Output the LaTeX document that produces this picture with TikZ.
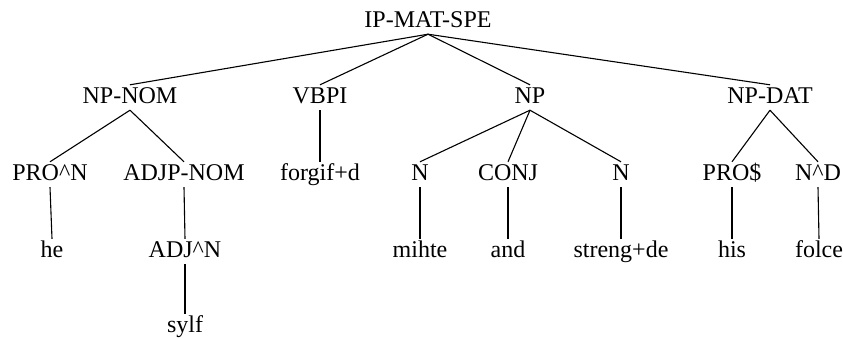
\documentclass[tikz,border=0pt]{standalone}
\usepackage{fontspec}
\setmainfont{Liberation Serif}
\begin{document}
\begin{tikzpicture}[x=1pt,y=-1pt,
  lbl/.style={anchor=base,inner xsep=1pt,inner ysep=3pt,text height=15pt,text depth=4pt,
    font=\fontsize{24}{27}\selectfont},
  edge/.style={draw=black,line width=1.1pt}]
\useasboundingbox (0,0) rectangle (843,338);
% level 0
\node[lbl] (ip) at (428,27) {IP-MAT-SPE};
% level 1
\node[lbl] (npnom) at (130,103) {NP-NOM};
\node[lbl] (vbpi) at (320,103) {VBPI};
\node[lbl] (np) at (530,103) {NP};
\node[lbl] (npdat) at (770,103) {NP-DAT};
% level 2
\node[lbl] (pron) at (50,180) {PRO\textasciicircum N};
\node[lbl] (adjp) at (184,180) {ADJP-NOM};
\node[lbl] (forgif) at (320,180) {forgif+d};
\node[lbl] (n1) at (420,180) {N};
\node[lbl] (conj) at (508,180) {CONJ};
\node[lbl] (n2) at (621,180) {N};
\node[lbl] (pros) at (732,180) {PRO\$};
\node[lbl] (nd) at (818,180) {N\textasciicircum D};
% level 3
\node[lbl] (he) at (52,257) {he};
\node[lbl] (adjn) at (185,257) {ADJ\textasciicircum N};
\node[lbl] (mihte) at (420,257) {mihte};
\node[lbl] (and) at (508,257) {and};
\node[lbl] (streng) at (621,257) {streng+de};
\node[lbl] (his) at (732,257) {his};
\node[lbl] (folce) at (819,257) {folce};
% level 4
\node[lbl] (sylf) at (185,332) {sylf};
% edges
\draw[edge] (ip.south) -- (npnom.north);
\draw[edge] (ip.south) -- (vbpi.north);
\draw[edge] (ip.south) -- (np.north);
\draw[edge] (ip.south) -- (npdat.north);
\draw[edge] (npnom.south) -- (pron.north);
\draw[edge] (npnom.south) -- (adjp.north);
\draw[edge] (vbpi.south) -- (forgif.north);
\draw[edge] (np.south) -- (n1.north);
\draw[edge] (np.south) -- (conj.north);
\draw[edge] (np.south) -- (n2.north);
\draw[edge] (npdat.south) -- (pros.north);
\draw[edge] (npdat.south) -- (nd.north);
\draw[edge] (pron.south) -- (he.north);
\draw[edge] (adjp.south) -- (adjn.north);
\draw[edge] (n1.south) -- (mihte.north);
\draw[edge] (conj.south) -- (and.north);
\draw[edge] (n2.south) -- (streng.north);
\draw[edge] (pros.south) -- (his.north);
\draw[edge] (nd.south) -- (folce.north);
\draw[edge] (adjn.south) -- (sylf.north);
\end{tikzpicture}
\end{document}
